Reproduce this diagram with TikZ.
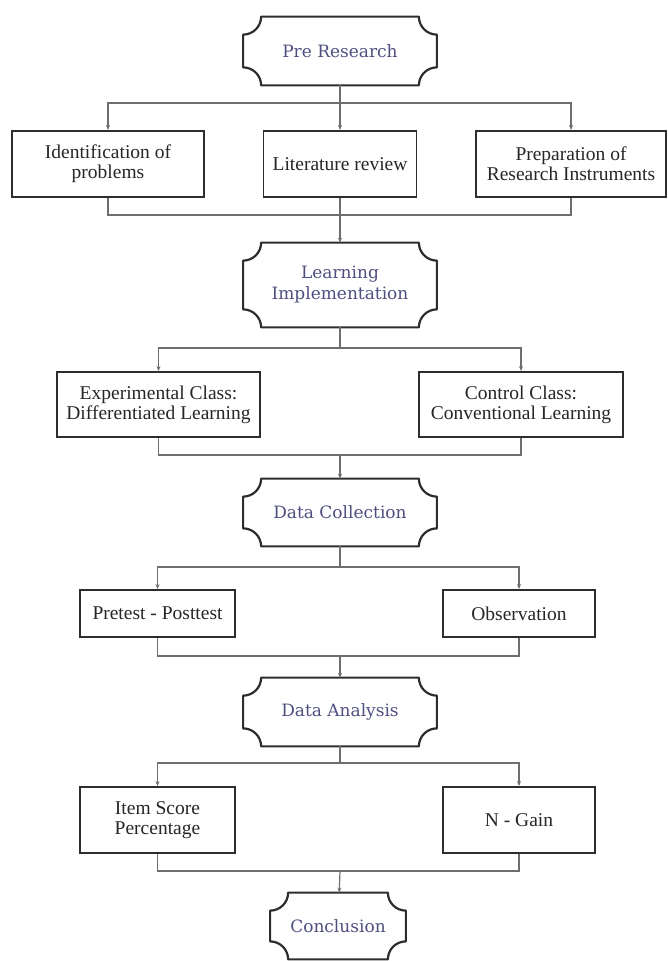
\documentclass[tikz,border=0pt]{standalone}
\usepackage{fontspec}
\setmainfont{Liberation Serif}
\newfontfamily\headfont{DejaVu Serif}
\usetikzlibrary{arrows.meta,calc}

\definecolor{headblue}{RGB}{78,78,128}
\definecolor{linkgray}{RGB}{110,110,110}
\definecolor{framegray}{RGB}{45,45,45}

\tikzset{every picture/.style={line width=0.75pt}}
\tikzset{
  stagebox/.style={inner sep=0pt, text=headblue, font=\headfont\fontsize{17}{21}\selectfont, align=center},
  stageframe/.style={draw=framegray, line width=2.2pt, line join=round},
  taskbox/.style={draw=framegray, line width=1.8pt, inner sep=0pt, text=black!85, font=\fontsize{19.5}{20}\selectfont, align=center},
  link/.style={draw=linkgray, line width=1.2pt},
  linkarrow/.style={link, -{Stealth[length=5pt,width=4pt]}},
}

\begin{document}
\begin{tikzpicture}[x=1pt,y=1pt,yscale=-1]

\useasboundingbox (0,0) rectangle (668,961);

\node (pre)   at (340,51)    [stagebox, minimum width=193, minimum height=68] {Pre Research};
\node (learn) at (340,285)   [stagebox, minimum width=193, minimum height=84] {Learning\\Implementation};
\node (coll)  at (340,512.5) [stagebox, minimum width=193, minimum height=67] {Data Collection};
\node (anal)  at (340,712)   [stagebox, minimum width=193, minimum height=68] {Data Analysis};
\node (concl) at (338,926)   [stagebox, minimum width=135, minimum height=66] {Conclusion};

\node (idp)   at (108,164)   [taskbox, minimum width=192, minimum height=66] {Identification of\\problems};
\node (lit)   at (340,164)   [taskbox, minimum width=153, minimum height=66] {Literature review};
\node (prep)  at (571,164)   [taskbox, minimum width=190, minimum height=66] {Preparation of\\Research Instruments};

\node (exp)   at (158.5,404.5) [taskbox, minimum width=203, minimum height=65] {Experimental Class:\\Differentiated Learning};
\node (ctrl)  at (521,404.5)   [taskbox, minimum width=204, minimum height=65] {Control Class:\\Conventional Learning};

\node (pp)    at (157.5,613.5) [taskbox, minimum width=155, minimum height=47] {Pretest - Posttest};
\node (obs)   at (519,613.5)   [taskbox, minimum width=152, minimum height=47] {Observation};

\node (isp)   at (157.5,820)   [taskbox, minimum width=155, minimum height=66] {Item Score\\Percentage};
\node (ngain) at (519,820)     [taskbox, minimum width=152, minimum height=66] {N - Gain};

\foreach \n in {pre,learn,coll,anal,concl}
  \draw [stageframe] ($(\n.north west)+(18,0)$) -- ($(\n.north east)+(-18,0)$) arc [start angle=180, end angle=90, radius=18]
    -- ($(\n.south east)+(0,-18)$) arc [start angle=270, end angle=180, radius=18]
    -- ($(\n.south west)+(18,0)$) arc [start angle=360, end angle=270, radius=18]
    -- ($(\n.north west)+(0,18)$) arc [start angle=90, end angle=0, radius=18] -- cycle;

\coordinate (b1) at (340,103);
\coordinate (j1) at (340,215);
\coordinate (b2) at (340,348);
\coordinate (j2) at (340,455);
\coordinate (b3) at (340,567);
\coordinate (j3) at (340,656);
\coordinate (b4) at (340,763);
\coordinate (j4) at (340,871);

\draw [link] (pre) -- (b1);
\draw [linkarrow] (b1) -| (idp);
\draw [linkarrow] (b1) -- (lit);
\draw [linkarrow] (b1) -| (prep);
\draw [link] (idp) |- (j1);
\draw [link] (lit) -- (j1);
\draw [link] (prep) |- (j1);
\draw [linkarrow] (j1) -- (learn);

\draw [link] (learn) -- (b2);
\draw [linkarrow] (b2) -| (exp);
\draw [linkarrow] (b2) -| (ctrl);
\draw [link] (exp) |- (j2);
\draw [link] (ctrl) |- (j2);
\draw [linkarrow] (j2) -- (coll);

\draw [link] (coll) -- (b3);
\draw [linkarrow] (b3) -| (pp);
\draw [linkarrow] (b3) -| (obs);
\draw [link] (pp) |- (j3);
\draw [link] (obs) |- (j3);
\draw [linkarrow] (j3) -- (anal);

\draw [link] (anal) -- (b4);
\draw [linkarrow] (b4) -| (isp);
\draw [linkarrow] (b4) -| (ngain);
\draw [link] (isp) |- (j4);
\draw [link] (ngain) |- (j4);
\draw [linkarrow] (j4) -- (concl);

\end{tikzpicture}
\end{document}
